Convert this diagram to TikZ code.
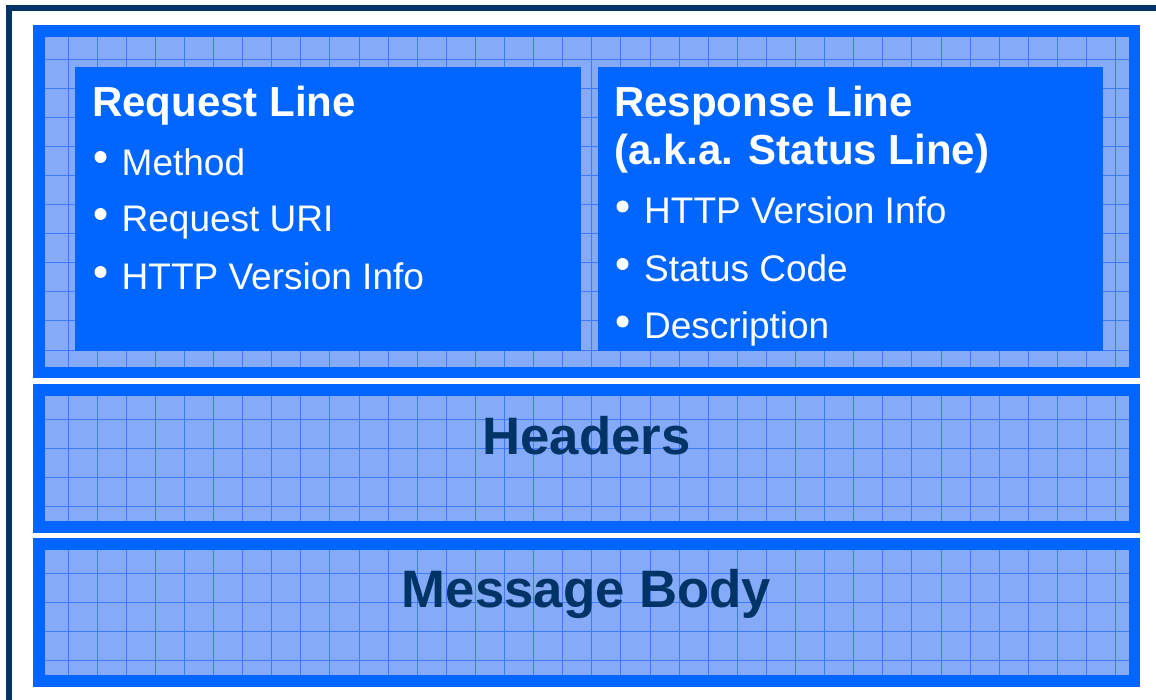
\documentclass[tikz,border=0pt]{standalone}
\usepackage{fontspec}
\setmainfont{Liberation Sans}
\usepackage{xcolor}

\definecolor{navy}{RGB}{0,51,102}
\definecolor{httpblue}{RGB}{0,102,255}
\definecolor{paleblue}{RGB}{132,170,248}
\definecolor{gridblue}{RGB}{60,122,255}

\tikzset{
  panel/.style={fill=httpblue},
  panelfill/.style={fill=paleblue},
  gridline/.style={draw=gridblue, line width=0.9},
  title/.style={anchor=base west, text=white, inner sep=0,
    font=\fontsize{42}{50}\selectfont\bfseries},
  item/.style={anchor=base west, text=white, inner sep=0,
    font=\fontsize{37}{44}\selectfont},
  bigword/.style={anchor=base, text=navy, inner sep=0,
    font=\fontsize{52.7}{60}\selectfont\bfseries},
  bulletdot/.style={circle, fill=white, inner sep=0, minimum size=12},
}

\begin{document}
\begin{tikzpicture}[x=1pt, y=-1pt]
  \clip (0,0) rectangle (1156,700);
  \fill[white] (0,0) rectangle (1156,700);

  % outer frame (only left and top edges in view)
  \draw[navy, line width=6] (9,8) rectangle (1300,800);

  % start line panel
  \fill[panel] (33,25) rectangle (1140,378);
  \fill[panelfill] (45,37) rectangle (1129,367);
  \foreach \i in {0,...,36}
    \draw[gridline] ({68+29.1*\i},37) -- ({68+29.1*\i},367);
  \foreach \j in {0,...,10}
    \draw[gridline] (45,{59+29.1*\j}) -- (1129,{59+29.1*\j});

  % headers panel
  \fill[panel] (33,384) rectangle (1140,533);
  \fill[panelfill] (45,396) rectangle (1129,521);
  \foreach \i in {0,...,36}
    \draw[gridline] ({68+29.1*\i},396) -- ({68+29.1*\i},521);
  \foreach \j in {0,...,3}
    \draw[gridline] (45,{419+29.1*\j}) -- (1129,{419+29.1*\j});

  % message body panel
  \fill[panel] (33,538) rectangle (1140,687);
  \fill[panelfill] (45,550) rectangle (1129,675);
  \foreach \i in {0,...,36}
    \draw[gridline] ({68+29.1*\i},550) -- ({68+29.1*\i},675);
  \foreach \j in {0,...,3}
    \draw[gridline] (45,{573+29.1*\j}) -- (1129,{573+29.1*\j});

  % request line box
  \fill[panel] (75,67) rectangle (581,351);
  \node[title] (reqtitle) at (92,117) {Request Line};
  \node[bulletdot] (reqdot1) at (100.5,157) {};
  \node[item] (method) at (121.5,175.5) {Method};
  \node[bulletdot] (reqdot2) at (100.5,214) {};
  \node[item] (requri) at (121.5,232) {Request URI};
  \node[bulletdot] (reqdot3) at (100.5,272) {};
  \node[item] (reqver) at (121.5,290) {HTTP Version Info};

  % response line box
  \begin{scope}
    \clip (598,67) rectangle (1103,351);
    \fill[panel] (598,67) rectangle (1103,351);
    \node[title] (restitle) at (614,117) {Response Line};
    \node[title] (resalias) at (614,165) {(a.k.a. Status Line)};
    \node[bulletdot] (resdot1) at (622.5,206.5) {};
    \node[item] (resver) at (644,224) {HTTP Version Info};
    \node[bulletdot] (resdot2) at (622.5,264) {};
    \node[item] (status) at (644,281.5) {Status Code};
    \node[bulletdot] (resdot3) at (622.5,321.5) {};
    \node[item] (descr) at (644,339) {Description};
  \end{scope}

  \node[bigword] (headers) at (586.5,454) {Headers};
  \node[bigword] (body) at (586.5,607.5) {Message Body};
\end{tikzpicture}
\end{document}
